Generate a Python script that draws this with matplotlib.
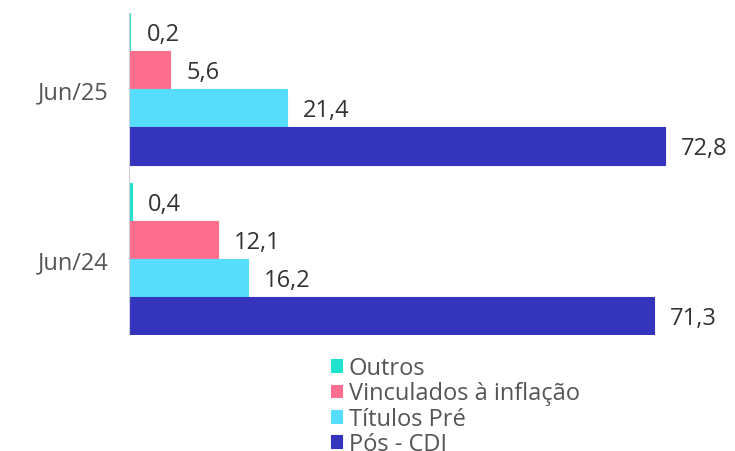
import numpy as np
import matplotlib.pyplot as plt

plt.rcParams['font.family'] = ['Open Sans', 'DejaVu Sans']

# data
periods = ['Jun/24', 'Jun/25']
series = ['Outros', 'Vinculados à inflação', 'Títulos Pré', 'Pós - CDI']
outros = [0.4, 0.2]
vinculados = [12.1, 5.6]
titulos_pre = [16.2, 21.4]
pos_cdi = [71.3, 72.8]

colors = ['#1FE3CC', '#FF6D8F', '#55DDFB', '#3434BC']
fs = 17

fig = plt.figure(figsize=(7.35, 4.52), dpi=100)
ax = fig.add_axes([129 / 735, 1 - 336 / 452, (735 - 129) / 735, 322 / 452])

h = 38 / 170
y = np.arange(len(periods))
offsets = [1.5 * h, 0.5 * h, -0.5 * h, -1.5 * h]
values = [outros, vinculados, titulos_pre, pos_cdi]

for name, vals, off, c in zip(series, values, offsets, colors):
    bars = ax.barh(y + off, vals, height=h, color=c, label=name,
                   edgecolor=c, linewidth=0.8)
    for b, v in zip(bars, vals):
        ax.annotate(f'{v:.1f}'.replace('.', ','),
                    (b.get_width(), b.get_y() + b.get_height() / 2),
                    xytext=(16, -2), textcoords='offset pixels',
                    va='center', ha='left', fontsize=fs, color='#333333')

ax.set_xlim(0, 606 / (536 / 72.8))
ax.set_ylim(-2 * h, 1 + 2 * h)
ax.set_yticks(y)
ax.set_yticklabels(periods, fontsize=fs, color='#555555')
ax.tick_params(axis='y', length=0, pad=15)
ax.set_xticks([])
for s in ['top', 'right', 'bottom']:
    ax.spines[s].set_visible(False)
ax.spines['left'].set_color('#d0d0d8')
ax.spines['left'].set_linewidth(0.8)

leg = fig.legend(loc='upper left', bbox_to_anchor=(331 / 735, 1 - 357 / 452),
                 frameon=False, fontsize=fs, handlelength=0.45, handleheight=0.45,
                 handletextpad=0.3, labelspacing=0.06, borderpad=0, borderaxespad=0)
for t in leg.get_texts():
    t.set_color('#555555')

fig.savefig('out.png', dpi=100)
